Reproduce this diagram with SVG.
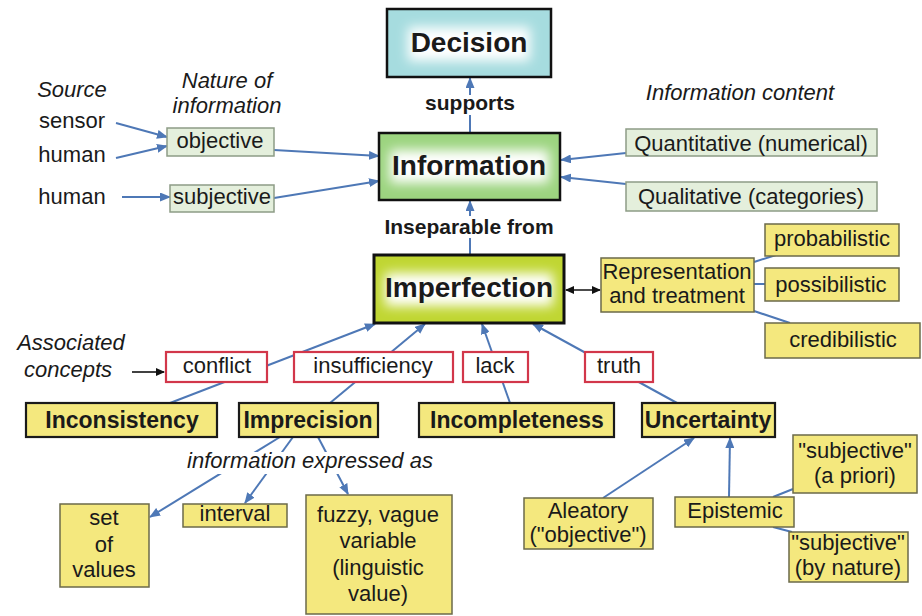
<svg xmlns="http://www.w3.org/2000/svg" width="922" height="616" viewBox="0 0 922 616">
<style>
text{font-family:"Liberation Sans",Arial,sans-serif;font-size:22px;fill:#1a1a1a;text-anchor:middle}
.it{font-style:italic}
.b{font-weight:bold;font-size:23px}
.big{font-weight:bold;font-size:28px}
.lab{font-weight:bold;font-size:21px}
.yel{fill:#f4e87e;stroke:#6b6a4a;stroke-width:1.5}
.yb{fill:#f4e87e;stroke:#1a1a1a;stroke-width:2.2}
.grn{fill:#e4efdc;stroke:#8d9c86;stroke-width:1.5}
.red{fill:#fff;stroke:#d2374a;stroke-width:2.2}
.c{fill:none;stroke:#4e78b6;stroke-width:2}
.ca{fill:none;stroke:#4e78b6;stroke-width:2;marker-end:url(#ah)}
.k{fill:none;stroke:#111;stroke-width:1.6}
</style>
<defs>
<marker id="ah" markerUnits="userSpaceOnUse" markerWidth="11" markerHeight="9" refX="10" refY="4.5" orient="auto"><path d="M0,0 L11,4.5 L0,9 z" fill="#4e78b6"/></marker>
<marker id="kh" markerUnits="userSpaceOnUse" markerWidth="9" markerHeight="8" refX="8" refY="4" orient="auto-start-reverse"><path d="M0,0 L9,4 L0,8 z" fill="#111"/></marker>
<filter id="soft" x="-50%" y="-50%" width="200%" height="200%"><feGaussianBlur stdDeviation="6"/></filter>
</defs>
<rect width="922" height="616" fill="#fff"/>

<g id="connectors">
<path class="ca" d="M116,123 L167,137"/>
<path class="ca" d="M116,158 L167,146"/>
<path class="ca" d="M122,197 L170,197"/>
<path class="ca" d="M274,150 L379,156"/>
<path class="ca" d="M274,198 L379,181"/>
<path class="ca" d="M626,153 L561,160"/>
<path class="ca" d="M626,184 L561,177"/>
<path class="ca" d="M470,133 L470,78"/>
<path class="ca" d="M470,255 L470,201"/>
<path class="k" d="M566,290 L600,290" marker-start="url(#kh)" marker-end="url(#kh)"/>
<path class="c" d="M754,262 L776,255"/>
<path class="c" d="M754,284 L765,284"/>
<path class="c" d="M754,311 L790,323"/>
<path class="k" d="M132,372 L164,372" marker-end="url(#kh)"/>
<path class="ca" d="M170,403 L375,324"/>
<path class="ca" d="M330,403 L425,324"/>
<path class="ca" d="M510,403 L482,324"/>
<path class="ca" d="M677,403 L533,324"/>
<path class="ca" d="M280,437 L150,517"/>
<path class="ca" d="M293,437 L245,503"/>
<path class="ca" d="M318,437 L348,494"/>
<path class="ca" d="M603,498 L694,438"/>
<path class="ca" d="M729,497 L730,438"/>
<path class="c" d="M773,497 L793,489"/>
<path class="c" d="M773,527 L792,532"/>
</g>

<g id="connector-labels">
<rect x="420" y="95" width="100" height="20" fill="#fff"/>
<text class="lab" x="470" y="110">supports</text>
<rect x="378" y="216" width="182" height="22" fill="#fff"/>
<text class="lab" x="469" y="234">Inseparable from</text>
<rect x="186" y="452" width="250" height="22" fill="#fff"/>
<text class="it" x="310" y="468">information expressed as</text>
</g>

<g id="headers">
<text class="it" x="72" y="97">Source</text>
<text class="it" x="227" y="88">Nature of</text>
<text class="it" x="227" y="113">information</text>
<text class="it" x="740" y="100">Information content</text>
<text class="it" x="71" y="350">Associated</text>
<text class="it" x="68" y="377">concepts</text>
</g>

<g id="sources">
<text x="72" y="128">sensor</text>
<text x="72" y="162">human</text>
<text x="72" y="204">human</text>
</g>

<g id="decision">
<rect x="387" y="9" width="164" height="68" fill="#a6dcdf"/>
<rect x="408" y="27" width="122" height="34" fill="#fff" filter="url(#soft)"/>
<rect x="387" y="9" width="164" height="68" fill="none" stroke="#111" stroke-width="2.5"/>
<text class="big" x="469" y="52">Decision</text>
</g>

<g id="information">
<rect x="379" y="133" width="181" height="67" fill="#9cd47f"/>
<rect x="390" y="150" width="159" height="33" fill="#fff" filter="url(#soft)"/>
<rect x="379" y="133" width="181" height="67" fill="none" stroke="#111" stroke-width="2.5"/>
<text class="big" x="469" y="175">Information</text>
</g>

<g id="imperfection">
<rect x="374" y="255" width="190" height="68" fill="#c0d632"/>
<rect x="385" y="273" width="168" height="33" fill="#fff" filter="url(#soft)"/>
<rect x="374" y="255" width="190" height="68" fill="none" stroke="#111" stroke-width="3"/>
<text class="big" x="469" y="297">Imperfection</text>
</g>

<g id="objective"><rect class="grn" x="167" y="128" width="107" height="28"/><text x="220" y="148">objective</text></g>
<g id="subjective"><rect class="grn" x="170" y="185" width="104" height="27"/><text x="222" y="204">subjective</text></g>
<g id="quantitative"><rect class="grn" x="626" y="129" width="251" height="27"/><text x="751" y="151">Quantitative (numerical)</text></g>
<g id="qualitative"><rect class="grn" x="626" y="182" width="251" height="29"/><text x="751" y="204">Qualitative (categories)</text></g>

<g id="representation"><rect class="yel" x="601" y="258" width="153" height="54"/><text x="677" y="279">Representation</text><text x="677" y="303">and treatment</text></g>
<g id="probabilistic"><rect class="yel" x="765" y="224" width="134" height="32"/><text x="832" y="246">probabilistic</text></g>
<g id="possibilistic"><rect class="yel" x="765" y="268" width="134" height="33"/><text x="831" y="292">possibilistic</text></g>
<g id="credibilistic"><rect class="yel" x="765" y="323" width="155" height="35"/><text x="843" y="347">credibilistic</text></g>

<g id="conflict"><rect class="red" x="166" y="352" width="101" height="30"/><text x="217" y="373">conflict</text></g>
<g id="insufficiency"><rect class="red" x="294" y="352" width="159" height="30"/><text x="373" y="373">insufficiency</text></g>
<g id="lack"><rect class="red" x="463" y="352" width="65" height="30"/><text x="495" y="373">lack</text></g>
<g id="truth"><rect class="red" x="585" y="352" width="68" height="30"/><text x="619" y="373">truth</text></g>

<g id="inconsistency"><rect class="yb" x="26" y="403" width="191" height="34"/><text class="b" x="122" y="428">Inconsistency</text></g>
<g id="imprecision"><rect class="yb" x="239" y="403" width="139" height="34"/><text class="b" x="308" y="428">Imprecision</text></g>
<g id="incompleteness"><rect class="yb" x="419" y="403" width="195" height="34"/><text class="b" x="517" y="428">Incompleteness</text></g>
<g id="uncertainty"><rect class="yb" x="642" y="403" width="133" height="34"/><text class="b" x="708" y="428">Uncertainty</text></g>

<g id="set-of-values"><rect class="yel" x="60" y="504" width="89" height="83"/><text x="104" y="525">set</text><text x="104" y="552">of</text><text x="104" y="577">values</text></g>
<g id="interval"><rect class="yel" x="183" y="504" width="104" height="23"/><text x="235" y="521">interval</text></g>
<g id="fuzzy"><rect class="yel" x="306" y="495" width="146" height="119"/><text x="378" y="522">fuzzy, vague</text><text x="378" y="548">variable</text><text x="378" y="575">(linguistic</text><text x="378" y="601">value)</text></g>

<g id="aleatory"><rect class="yel" x="524" y="498" width="129" height="51"/><text x="588" y="518">Aleatory</text><text x="588" y="542">("objective")</text></g>
<g id="epistemic"><rect class="yel" x="675" y="497" width="119" height="30"/><text x="735" y="518">Epistemic</text></g>
<g id="subjective-apriori"><rect class="yel" x="793" y="435" width="124" height="58"/><text x="855" y="458">"subjective"</text><text x="855" y="483">(a priori)</text></g>
<g id="subjective-bynature"><rect class="yel" x="789" y="532" width="119" height="50"/><text x="848" y="550">"subjective"</text><text x="848" y="575">(by nature)</text></g>
</svg>
